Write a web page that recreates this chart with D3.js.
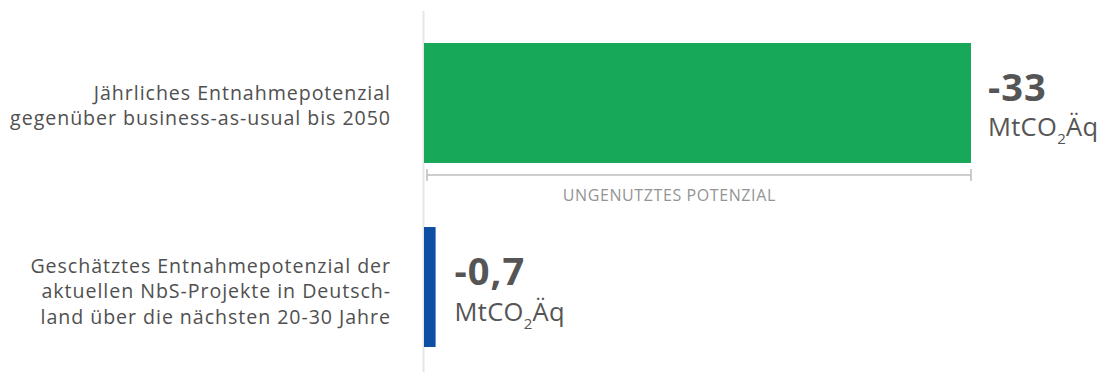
<!DOCTYPE html>
<html>
<head>
<meta charset="utf-8">
<script src="https://cdn.jsdelivr.net/npm/d3@7"></script>
<style>
  html, body { margin: 0; padding: 0; background: #fff; }
  svg { display: block; }
</style>
</head>
<body>
<div id="chart"></div>
<script>
// Data
const categories = [
  ['Jährliches Entnahmepotenzial', 'gegenüber business-as-usual bis 2050'],
  ['Geschätztes Entnahmepotenzial der', 'aktuellen NbS-Projekte in Deutsch-', 'land über die nächsten 20-30 Jahre'],
];
const values = [33, 0.7];
const valueLabels = ['-33', '-0,7'];
const barColors = ['#17a85a', '#0c4fa3'];
const gapLabel = 'UNGENUTZTES POTENZIAL';

const W = 1107, H = 372;
const x0 = 424;
const font = '"Open Sans", "Noto Sans", sans-serif';

const svg = d3.select('#chart').append('svg')
  .attr('width', W).attr('height', H);

const x = d3.scaleLinear().domain([0, 33]).range([x0, 971]);
const y = d3.scaleBand().domain(d3.range(values.length)).range([43, 347]).paddingInner(0.348).paddingOuter(0);

// axis line
svg.append('line')
  .attr('x1', x0 - 0.5).attr('x2', x0 - 0.5)
  .attr('y1', 11).attr('y2', H)
  .attr('stroke', '#e6e6e6').attr('stroke-width', 2);

// bars
svg.selectAll('.bar')
  .data(values)
  .enter().append('rect')
  .attr('class', 'bar')
  .attr('x', x0)
  .attr('y', (_, i) => y(i))
  .attr('width', d => x(d) - x0)
  .attr('height', y.bandwidth())
  .attr('fill', (_, i) => barColors[i]);

// category labels (right-aligned, multi-line)
categories.forEach((lines, i) => {
  const mid = y(i) + y.bandwidth() / 2;
  const lh = 25.5;
  const first = mid - (lines.length - 1) * lh / 2 + 9.5 + i * 1.5;
  const t = svg.append('text')
    .attr('text-anchor', 'end')
    .attr('font-family', font)
    .attr('font-size', 19.6)
    .attr('letter-spacing', 0.95)
    .attr('fill', '#505050');
  lines.forEach((ln, j) => {
    t.append('tspan').attr('x', 391).attr('y', first + j * lh).text(ln);
  });
});

// value labels
values.forEach((v, i) => {
  const mid = y(i) + y.bandwidth() / 2;
  const lx = x(v) + 17 + i * 2;
  svg.append('text')
    .attr('x', lx).attr('y', mid - 2)
    .attr('font-family', font)
    .attr('font-weight', 700)
    .attr('font-size', 38)
    .attr('letter-spacing', 1)
    .attr('fill', '#555')
    .text(valueLabels[i]);
  const u = svg.append('text')
    .attr('x', lx).attr('y', mid + 33.5)
    .attr('font-family', font)
    .attr('font-size', 25.5)
    .attr('letter-spacing', 0.3)
    .attr('fill', '#555');
  u.append('tspan').text('MtCO');
  u.append('tspan').attr('font-size', 15).attr('dy', 8).text('2');
  u.append('tspan').attr('dy', -8).text('Äq');
});

// bracket for unused potential
const by = y(0) + y.bandwidth() + 12;
const bx1 = x0 + 3, bx2 = x(values[0]);
const bg = svg.append('g').attr('stroke', '#bdbdbd').attr('stroke-width', 1.5);
bg.append('line').attr('x1', bx1).attr('x2', bx2).attr('y1', by).attr('y2', by);
bg.append('line').attr('x1', bx1).attr('x2', bx1).attr('y1', by - 6).attr('y2', by + 6);
bg.append('line').attr('x1', bx2).attr('x2', bx2).attr('y1', by - 6).attr('y2', by + 6);
svg.append('text')
  .attr('x', x(14.8)).attr('y', by + 26)
  .attr('text-anchor', 'middle')
  .attr('font-family', font)
  .attr('font-size', 16)
  .attr('letter-spacing', 0.6)
  .attr('fill', '#949494')
  .text(gapLabel);
</script>
</body>
</html>
